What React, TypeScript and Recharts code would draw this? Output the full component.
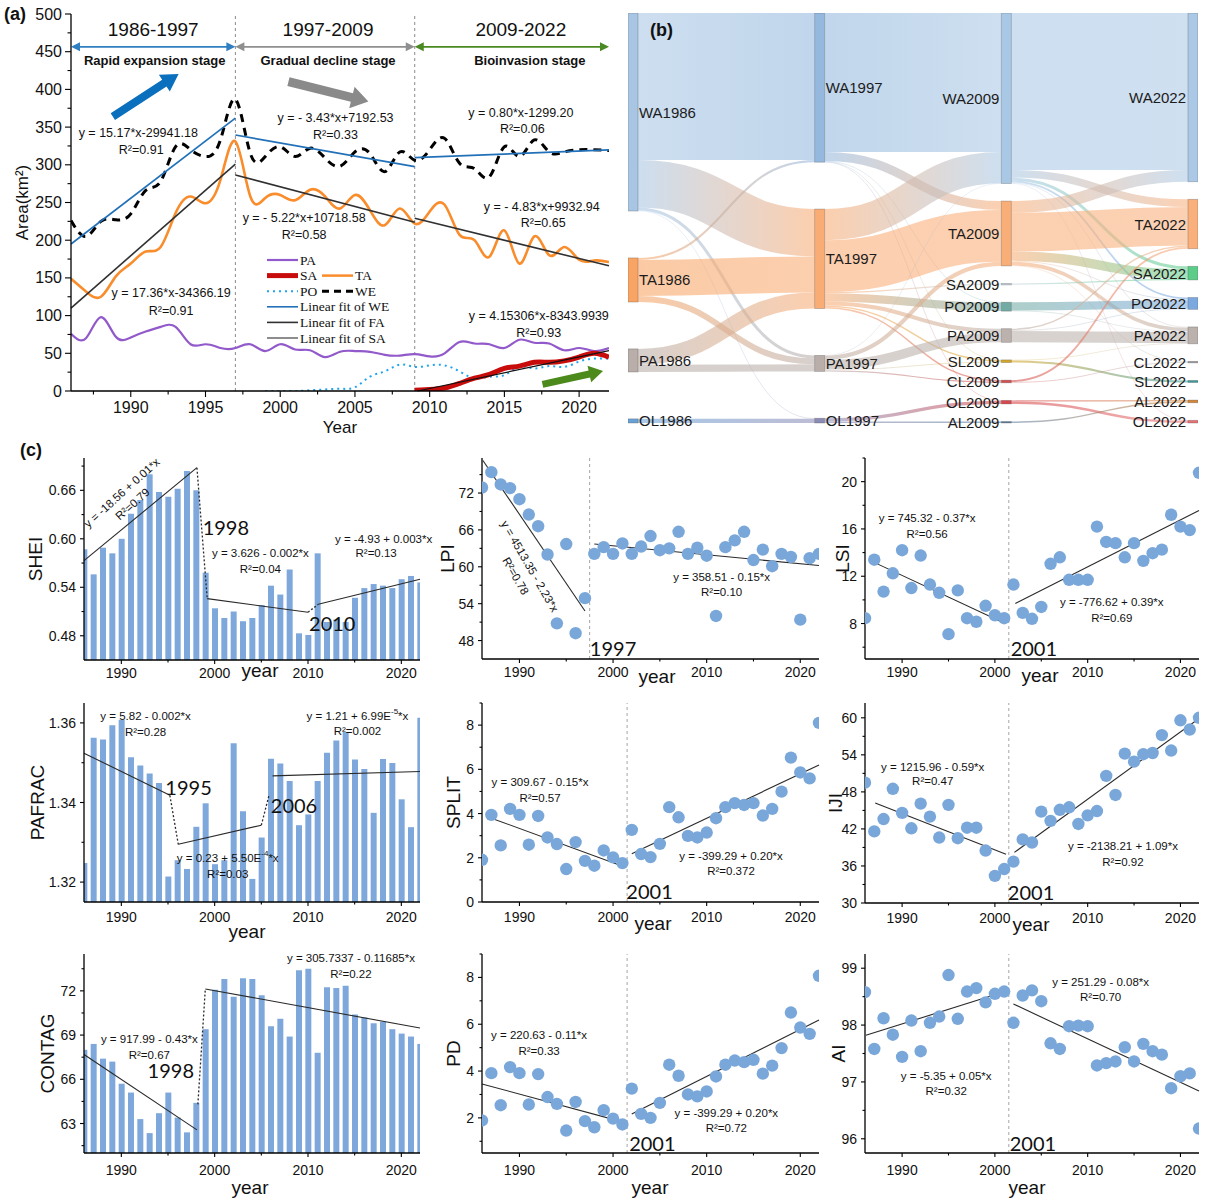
import React from 'react';
import {
  ComposedChart,
  Line,
  Bar,
  Scatter,
  XAxis,
  YAxis,
  ReferenceLine,
  ReferenceDot,
  Legend,
  Sankey,
} from 'recharts';

const SANS = '"Liberation Sans", Arial, Helvetica, sans-serif';
const SERIF = '"Liberation Serif", "Times New Roman", Times, serif';
const BIG = 'Lato, "Liberation Sans", sans-serif';

const YEARS = [
  1986, 1987, 1988, 1989, 1990, 1991, 1992, 1993, 1994, 1995, 1996, 1997, 1998,
  1999, 2000, 2001, 2002, 2003, 2004, 2005, 2006, 2007, 2008, 2009, 2010, 2011,
  2012, 2013, 2014, 2015, 2016, 2017, 2018, 2019, 2020, 2021, 2022,
];

// ---------------- (a) areas (km²) ----------------
const weArea = [226, 205, 225, 227, 235, 266, 278, 324, 320, 311, 333, 387, 315, 311, 324, 311, 322, 309, 298, 317, 315, 291, 317, 306, 320, 335, 302, 295, 284, 324, 311, 333, 317, 317, 320, 320, 319];
const taArea = [149, 132, 125, 152, 169, 185, 191, 236, 258, 249, 280, 331, 258, 256, 260, 253, 267, 258, 242, 260, 240, 220, 242, 222, 238, 247, 207, 200, 178, 213, 169, 205, 180, 191, 174, 173, 171];
const paArea = [76, 70, 98, 72, 71, 79, 85, 85, 62, 62, 57, 57, 62, 53, 62, 55, 54, 45, 52, 53, 52, 48, 47, 49, 46, 50, 65, 63, 62, 57, 68, 64, 63, 54, 57, 53, 57];
const poArea = [null, null, null, null, null, null, null, null, null, null, null, null, null, 0, 0, 0, 1, 2, 3, 5, 19, 26, 35, 32, 34, 34, 26, 17, 19, 21, 32, 30, 33, 32, 39, 43, 43];
const saArea = [null, null, null, null, null, null, null, null, null, null, null, null, null, null, null, null, null, null, null, null, null, null, null, 1, 2, 4, 10, 17, 22, 30, 33, 38, 38, 40, 45, 50, 45];

type Seg = [number, number, number, number];

// fitted trend segments [x1, y1, x2, y2]
const weFits: Seg[] = [[1986, 195, 1997, 362], [1997, 339.5, 2009, 297.5], [2009, 309.5, 2022, 319.7]];
const taFits: Seg[] = [[1986, 110, 1997, 301], [1997, 286.5, 2009, 223.7], [2009, 229, 2022, 166]];
const saFit: Seg = [2009.2, 0, 2022, 53.5];

const PA_COLOR = '#9159c9';
const TA_COLOR = '#f98c2b';
const SA_COLOR = '#c80c0c';
const PO_COLOR = '#1fa5f0';
const WE_FIT = '#2271b8';
const FIT_DARK = '#303030';

const areaRows = YEARS.map((year, i) => ({
  year,
  we: weArea[i],
  ta: taArea[i],
  pa: paArea[i],
  po: poArea[i],
  sa: saArea[i],
}));

const A_X_TICKS = [1987.5, 1990, 1992.5, 1995, 1997.5, 2000, 2002.5, 2005, 2007.5, 2010, 2012.5, 2015, 2017.5, 2020];
const A_X_MAJOR = [1990, 1995, 2000, 2005, 2010, 2015, 2020];
const A_Y_TICKS = [0, 25, 50, 75, 100, 125, 150, 175, 200, 225, 250, 275, 300, 325, 350, 375, 400, 425, 450, 475, 500];
const A_Y_MAJOR = [0, 50, 100, 150, 200, 250, 300, 350, 400, 450, 500];

interface Note {
  x: number;
  y: number;
  t: React.ReactNode;
  rot?: number;
  big?: boolean;
  bold?: boolean;
  fs?: number;
}

const sup = (pre: string, exp: string, post: string) => (
  <>
    {pre}
    <tspan dy={-5} fontSize={8}>{exp}</tspan>
    <tspan dy={5}>{post}</tspan>
  </>
);

const stageHeads: Note[] = [
  { x: 1991.5, y: 480, t: '1986-1997', fs: 19 },
  { x: 2003.2, y: 480, t: '1997-2009', fs: 19 },
  { x: 2016.1, y: 480, t: '2009-2022', fs: 19 },
  { x: 1991.6, y: 438, t: 'Rapid expansion stage', fs: 13, bold: true },
  { x: 2003.2, y: 438, t: 'Gradual decline stage', fs: 13, bold: true },
  { x: 2016.7, y: 438, t: 'Bioinvasion stage', fs: 13, bold: true },
];

const areaNotes: Note[] = [
  { x: 1990.5, y: 341.7, t: 'y = 15.17*x-29941.18' },
  { x: 1990.7, y: 319.6, t: 'R²=0.91' },
  { x: 2003.7, y: 361.6, t: 'y = - 3.43*x+7192.53' },
  { x: 2003.7, y: 339.5, t: 'R²=0.33' },
  { x: 2016.1, y: 369, t: 'y = 0.80*x-1299.20' },
  { x: 2016.2, y: 347, t: 'R²=0.06' },
  { x: 2001.6, y: 229, t: 'y = - 5.22*x+10718.58' },
  { x: 2001.6, y: 206.9, t: 'R²=0.58' },
  { x: 2017.5, y: 244.5, t: 'y = - 4.83*x+9932.94' },
  { x: 2017.6, y: 222.4, t: 'R²=0.65' },
  { x: 1992.7, y: 129.5, t: 'y = 17.36*x-34366.19' },
  { x: 1992.7, y: 106.5, t: 'R²=0.91' },
  { x: 2017.3, y: 99.5, t: 'y = 4.15306*x-8343.9939' },
  { x: 2017.3, y: 76.5, t: 'R²=0.93' },
];

// stage spans drawn as double-headed arrows
const stageSpans: { from: number; to: number; color: string }[] = [
  { from: 1986, to: 1997, color: '#2f7fc1' },
  { from: 1997, to: 2009, color: '#8f8f8f' },
  { from: 2009, to: 2022, color: '#4a8a22' },
];
const STAGE_Y = 456.5;

// trend arrows: tail -> tip
const trendArrows: { seg: Seg; color: string; shaft: number; head: number; len: number }[] = [
  { seg: [1988.8, 364, 1993.2, 420.5], color: '#0a6fbd', shaft: 8, head: 20, len: 17 },
  { seg: [2000.55, 410.3, 2005.9, 383.8], color: '#8a8a8a', shaft: 9, head: 22, len: 17 },
  { seg: [2017.55, 8.8, 2021.6, 26.5], color: '#4c8a1c', shaft: 7, head: 17, len: 14 },
];

const LEGEND_A = [
  { row: 0, col: 0, label: 'PA', color: PA_COLOR, w: 2.2 },
  { row: 1, col: 0, label: 'SA', color: SA_COLOR, w: 5 },
  { row: 1, col: 1, label: 'TA', color: TA_COLOR, w: 2.5 },
  { row: 2, col: 0, label: 'PO', color: PO_COLOR, w: 2, dash: '2 4' },
  { row: 2, col: 1, label: 'WE', color: '#000', w: 3, dash: '7 5' },
  { row: 3, col: 0, label: 'Linear fit of WE', color: WE_FIT, w: 1.6 },
  { row: 4, col: 0, label: 'Linear fit of FA', color: FIT_DARK, w: 1.6 },
  { row: 5, col: 0, label: 'Linear fit of SA', color: FIT_DARK, w: 1.1 },
];

// ---------------- (b) land-type transitions ----------------
const SANKEY_COLUMNS: string[][] = [
  ['WA1986', 'TA1986', 'PA1986', 'OL1986'],
  ['WA1997', 'TA1997', 'PA1997', 'OL1997'],
  ['WA2009', 'TA2009', 'SA2009', 'PO2009', 'PA2009', 'SL2009', 'CL2009', 'OL2009', 'AL2009'],
  ['WA2022', 'TA2022', 'SA2022', 'PO2022', 'PA2022', 'CL2022', 'SL2022', 'AL2022', 'OL2022'],
];

const SANKEY_FLOWS: [string, string, number][] = [
  ['WA1986', 'WA1997', 497], ['WA1986', 'TA1997', 160], ['WA1986', 'PA1997', 10], ['WA1986', 'OL1997', 2],
  ['TA1986', 'WA1997', 7], ['TA1986', 'TA1997', 122], ['TA1986', 'PA1997', 20],
  ['PA1986', 'TA1997', 54], ['PA1986', 'PA1997', 24],
  ['OL1986', 'OL1997', 14],
  ['WA1997', 'WA2009', 470], ['WA1997', 'TA2009', 30], ['WA1997', 'PO2009', 2], ['WA1997', 'OL2009', 1], ['WA1997', 'SL2009', 1],
  ['TA1997', 'WA2009', 105], ['TA1997', 'TA2009', 175], ['TA1997', 'PO2009', 28], ['TA1997', 'PA2009', 14],
  ['TA1997', 'SA2009', 4], ['TA1997', 'SL2009', 5], ['TA1997', 'CL2009', 5],
  ['PA1997', 'TA2009', 14], ['PA1997', 'PA2009', 32], ['PA1997', 'SL2009', 3], ['PA1997', 'CL2009', 4], ['PA1997', 'WA2009', 1],
  ['OL1997', 'OL2009', 11], ['OL1997', 'AL2009', 5],
  ['WA2009', 'WA2022', 530], ['WA2009', 'TA2022', 26], ['WA2009', 'SA2022', 10], ['WA2009', 'PO2022', 6], ['WA2009', 'PA2022', 3], ['WA2009', 'OL2022', 1],
  ['TA2009', 'WA2022', 40], ['TA2009', 'TA2022', 130], ['TA2009', 'SA2022', 32], ['TA2009', 'PA2022', 12], ['TA2009', 'PO2022', 3], ['TA2009', 'CL2022', 2],
  ['SA2009', 'SA2022', 4],
  ['PO2009', 'PO2022', 28], ['PO2009', 'PA2022', 2],
  ['PA2009', 'PA2022', 38], ['PA2009', 'TA2022', 5], ['PA2009', 'PO2022', 3],
  ['SL2009', 'SL2022', 7], ['SL2009', 'PA2022', 2],
  ['CL2009', 'TA2022', 6], ['CL2009', 'CL2022', 3],
  ['OL2009', 'OL2022', 8], ['OL2009', 'AL2022', 4],
  ['AL2009', 'AL2022', 5],
];

const NODE_FILL: Record<string, string> = {
  WA1986: '#a8c6e4', WA1997: '#94b8de', WA2009: '#a9c8e5', WA2022: '#abc9e6',
  TA1986: '#f8a464', TA1997: '#f9ac74', TA2009: '#f9ae78', TA2022: '#f9b07c',
  PA1986: '#b9aea9', PA1997: '#b9aea9', PA2009: '#bcb2ad', PA2022: '#bcb2ad',
  OL1986: '#6aa2d8', OL1997: '#8c8cb6', OL2009: '#d6484b', OL2022: '#e77375',
  SA2009: '#c5d3e0', SA2022: '#5ccd88',
  PO2009: '#72aba3', PO2022: '#7ba9df',
  SL2009: '#d4a62c', SL2022: '#3d9b98',
  CL2009: '#d25050', CL2022: '#9a9a9a',
  AL2009: '#5e7e9d', AL2022: '#d4863a',
};

const SANKEY_LEFT = 628;
const SANKEY_TOP = 13;
const SANKEY_W = 570;
const SANKEY_VISIBLE_H = 410;
const NODE_SHARE = 0.657; // share of each column's height taken by nodes; the rest is spread evenly as gaps

function buildSankey() {
  const inflow: Record<string, number> = {};
  const outflow: Record<string, number> = {};
  SANKEY_FLOWS.forEach(([s, t, v]) => {
    outflow[s] = (outflow[s] || 0) + v;
    inflow[t] = (inflow[t] || 0) + v;
  });
  const colSums = SANKEY_COLUMNS.map((col) =>
    col.reduce((a, n) => a + Math.max(inflow[n] || 0, outflow[n] || 0), 0),
  );
  const span = Math.max(...colSums) / NODE_SHARE;
  const gaps = SANKEY_COLUMNS.map((col, c) => (span - colSums[c]) / (col.length - 1));
  // every gap is a transparent spacer chained through all columns; it sits
  // between two nodes in its own column and below the drawn area elsewhere
  const spacer = (c: number, k: number, d: number) => `_gap${c}_${k}_${d}`;
  const order: string[] = [];
  SANKEY_COLUMNS.forEach((col, d) => {
    col.forEach((n, k) => {
      if (k > 0) order.push(spacer(d, k, d));
      order.push(n);
    });
    SANKEY_COLUMNS.forEach((other, c) => {
      if (c !== d) for (let k = 1; k < other.length; k++) order.push(spacer(c, k, d));
    });
  });
  const index = new Map(order.map((n, i) => [n, i]));
  const links = SANKEY_FLOWS.map(([s, t, v]) => ({ source: index.get(s) as number, target: index.get(t) as number, value: v }));
  SANKEY_COLUMNS.forEach((col, c) => {
    for (let k = 1; k < col.length; k++) {
      for (let d = 0; d < SANKEY_COLUMNS.length - 1; d++) {
        links.push({ source: index.get(spacer(c, k, d)) as number, target: index.get(spacer(c, k, d + 1)) as number, value: gaps[c] });
      }
    }
  });
  const gapTotal = SANKEY_COLUMNS.reduce((a, col, c) => a + gaps[c] * (col.length - 1), 0);
  const maxColumn = Math.max(...colSums.map((s) => s + gapTotal));
  return {
    data: { nodes: order.map((name) => ({ name })), links },
    height: (SANKEY_VISIBLE_H * maxColumn) / span,
  };
}

const SANKEY = buildSankey();

const renderSankeyNode = (p: any) => {
  const { x, y, width, height, payload } = p;
  const name: string = payload.name;
  if (name.startsWith('_')) return <g />;
  const onLeft = payload.depth >= 2;
  return (
    <g>
      <rect x={x} y={y} width={width} height={Math.max(height, 1.4)} fill={NODE_FILL[name]} stroke="rgba(70,70,70,0.35)" strokeWidth={0.8} />
      <text
        x={onLeft ? x - 2 : x + width + 1}
        y={y + height / 2}
        textAnchor={onLeft ? 'end' : 'start'}
        dominantBaseline="central"
        fontSize={15}
        fontFamily={SANS}
        fill="#1c1c1c"
      >
        {name}
      </text>
    </g>
  );
};

const renderSankeyLink = (p: any) => {
  const { sourceX, targetX, sourceY, targetY, sourceControlX, targetControlX, linkWidth, index, payload } = p;
  const s: string = payload.source.name;
  const t: string = payload.target.name;
  if (s.startsWith('_')) return <g />;
  const id = `skgrad${index}`;
  return (
    <g>
      <defs>
        <linearGradient id={id} gradientUnits="userSpaceOnUse" x1={sourceX} y1={0} x2={targetX} y2={0}>
          <stop offset="0%" stopColor={NODE_FILL[s]} />
          <stop offset="100%" stopColor={NODE_FILL[t]} />
        </linearGradient>
      </defs>
      <path
        d={`M${sourceX},${sourceY}C${sourceControlX},${sourceY} ${targetControlX},${targetY} ${targetX},${targetY}`}
        fill="none"
        stroke={`url(#${id})`}
        strokeWidth={Math.max(linkWidth, 0.7)}
        strokeOpacity={linkWidth < 1 ? 0.35 : 0.58}
      />
    </g>
  );
};

// ---------------- (c) landscape metrics ----------------
const sheiValues = [0.587, 0.556, 0.589, 0.582, 0.600, 0.631, 0.648, 0.680, 0.658, 0.652, 0.662, 0.684, 0.660, 0.558, 0.514, 0.502, 0.510, 0.498, 0.502, 0.518, 0.542, 0.531, 0.562, 0.483, 0.481, 0.582, 0.497, 0.500, 0.497, 0.527, 0.539, 0.544, 0.542, 0.539, 0.550, 0.554, 0.546];
const lpiValues = [72.9, 75.4, 73.4, 72.8, 71.0, 68.5, 66.6, 62.0, 50.8, 63.7, 49.2, 54.9, 62.1, 63.2, 62.1, 63.8, 62.1, 63.3, 65.0, 62.7, 63.0, 65.7, 62.1, 63.1, 61.8, 52.0, 63.2, 64.3, 65.7, 61.1, 62.8, 60.1, 62.1, 61.6, 51.4, 61.4, 62.1];
const lsiValues = [8.45, 13.4, 10.7, 12.25, 14.2, 11.0, 13.75, 11.3, 10.6, 7.1, 10.8, 8.45, 8.15, 9.5, 8.7, 8.45, 11.3, 8.9, 8.4, 9.4, 13.05, 13.6, 11.7, 11.7, 11.7, 16.2, 14.9, 14.8, 13.6, 14.8, 13.3, 13.95, 14.25, 17.2, 16.2, 15.9, 20.75];
const pafracValues = [1.3248, 1.3563, 1.3558, 1.3594, 1.3608, 1.3514, 1.3493, 1.3473, 1.3449, 1.3214, 1.3255, 1.3233, 1.3339, 1.3398, 1.3245, 1.3255, 1.3549, 1.3378, 1.3208, 1.3312, 1.3510, 1.3498, 1.3454, 1.3343, 1.3370, 1.3454, 1.3525, 1.3556, 1.3577, 1.3508, 1.3484, 1.3374, 1.3509, 1.3499, 1.3408, 1.3338, 1.3613];
const splitValues = [1.91, 3.94, 2.56, 4.21, 3.94, 2.59, 3.89, 2.92, 2.62, 1.49, 2.71, 1.86, 1.64, 2.33, 2.02, 1.76, 3.26, 2.17, 2.03, 2.63, 4.29, 3.83, 2.99, 2.92, 3.14, 3.79, 4.29, 4.47, 4.39, 4.47, 3.91, 4.21, 4.99, 6.53, 5.86, 5.59, 8.1];
const ijiValues = [49.5, 41.6, 43.6, 48.5, 44.6, 42.1, 46.1, 44.0, 40.6, 45.9, 40.5, 42.2, 42.2, 38.5, 34.4, 35.5, 36.7, 40.3, 39.8, 44.8, 43.3, 45.1, 45.5, 42.8, 44.2, 44.9, 50.6, 47.5, 54.2, 52.9, 54.1, 54.3, 57.2, 54.7, 59.6, 58.1, 60.0];
const contagValues = [68.0, 68.4, 67.4, 67.2, 65.7, 65.1, 63.3, 62.35, 63.7, 65.1, 63.4, 62.4, 64.4, 69.4, 72.07, 72.8, 71.6, 72.85, 72.8, 71.7, 69.6, 70.1, 68.9, 73.4, 73.5, 67.8, 72.25, 72.2, 72.35, 70.4, 70.2, 69.8, 69.9, 69.4, 69.1, 68.9, 68.4];
const pdValues = [1.89, 3.91, 2.54, 4.17, 3.91, 2.57, 3.87, 2.89, 2.60, 1.46, 2.68, 1.86, 1.60, 2.33, 1.97, 1.72, 3.25, 2.17, 2.00, 2.64, 4.27, 3.80, 3.00, 2.92, 3.13, 3.77, 4.27, 4.45, 4.38, 4.48, 3.89, 4.23, 4.98, 6.50, 5.86, 5.59, 8.07];
const aiValues = [98.58, 97.58, 98.12, 97.83, 97.44, 98.08, 97.54, 98.04, 98.15, 98.88, 98.11, 98.59, 98.65, 98.40, 98.55, 98.59, 98.04, 98.52, 98.61, 98.42, 97.68, 97.58, 97.98, 97.99, 97.98, 97.29, 97.33, 97.36, 97.61, 97.36, 97.67, 97.54, 97.48, 96.89, 97.10, 97.15, 96.18];

const C_X_TICKS = [1990, 1995, 2000, 2005, 2010, 2015, 2020];
const C_X_MAJOR = [1990, 2000, 2010, 2020];

interface Metric {
  label: string;
  kind: 'bar' | 'scatter';
  values: number[];
  box: [number, number, number, number];
  domain: [number, number];
  major: number[];
  minor: number[];
  digits: number;
  labelDX: number;
  yearDX: number;
  yearDY: number;
  xGap: number;
  split?: number;
  fits: Seg[];
  dotted: Seg[];
  notes: Note[];
}

const METRICS: Metric[] = [
  {
    label: 'SHEI', kind: 'bar', values: sheiValues, box: [84, 458, 336, 202],
    domain: [0.45, 0.7], major: [0.48, 0.54, 0.6, 0.66], minor: [0.51, 0.57, 0.63, 0.69], digits: 2,
    labelDX: -49, yearDX: 176, yearDY: 10, xGap: 4,
    fits: [[1986, 0.573, 1998.1, 0.688], [1999.2, 0.526, 2010, 0.509], [2011.1, 0.519, 2022, 0.55]],
    dotted: [[1998.1, 0.688, 1999.2, 0.526], [2010, 0.509, 2011.1, 0.519]],
    notes: [
      { x: 1990.05, y: 0.657, t: 'y = -18.56 + 0.01*x', rot: -42 },
      { x: 1991.2, y: 0.643, t: 'R²=0.79', rot: -42 },
      { x: 2001.2, y: 0.614, t: '1998', big: true },
      { x: 2004.9, y: 0.582, t: 'y = 3.626 - 0.002*x' },
      { x: 2004.9, y: 0.563, t: 'R²=0.04' },
      { x: 2012.6, y: 0.496, t: '2010', big: true },
      { x: 2018.1, y: 0.6, t: 'y = -4.93 + 0.003*x' },
      { x: 2017.3, y: 0.582, t: 'R²=0.13' },
    ],
  },
  {
    label: 'LPI', kind: 'scatter', values: lpiValues, box: [482, 458, 337, 201],
    domain: [45, 77.7], major: [48, 54, 60, 66, 72], minor: [51, 57, 63, 69, 75], digits: 0,
    labelDX: -35, yearDX: 175, yearDY: 17, xGap: 4, split: 1997.5,
    fits: [[1986.1, 77.3, 1997, 52.8], [1998, 63.7, 2022, 60.2]],
    dotted: [],
    notes: [
      { x: 1991.1, y: 60.1, t: 'y = 4513.35 - 2.23*x', rot: 60 },
      { x: 1989.6, y: 58.5, t: 'R²=0.78', rot: 60 },
      { x: 2000.0, y: 46.8, t: '1997', big: true },
      { x: 2011.6, y: 58.35, t: 'y = 358.51 - 0.15*x' },
      { x: 2011.6, y: 55.85, t: 'R²=0.10' },
    ],
  },
  {
    label: 'LSI', kind: 'scatter', values: lsiValues, box: [865, 458, 334, 201],
    domain: [5, 22], major: [8, 12, 16, 20], minor: [6, 10, 14, 18, 22], digits: 0,
    labelDX: -23, yearDX: 175, yearDY: 16, xGap: 4, split: 2001.5,
    fits: [[1987.1, 13.13, 2001.1, 8.0], [2002.2, 9.7, 2022, 17.55]],
    dotted: [],
    notes: [
      { x: 1992.7, y: 16.9, t: 'y = 745.32 - 0.37*x' },
      { x: 1992.7, y: 15.6, t: 'R²=0.56' },
      { x: 2004.2, y: 5.9, t: '2001', big: true },
      { x: 2012.6, y: 9.8, t: 'y = -776.62 + 0.39*x' },
      { x: 2012.6, y: 8.45, t: 'R²=0.69' },
    ],
  },
  {
    label: 'PAFRAC', kind: 'bar', values: pafracValues, box: [84, 703, 336, 199],
    domain: [1.315, 1.365], major: [1.32, 1.34, 1.36], minor: [1.33, 1.35], digits: 2,
    labelDX: -47, yearDX: 163, yearDY: 29, xGap: 6,
    fits: [[1986, 1.3524, 1995.2, 1.3418], [1996.1, 1.3295, 2005, 1.3343], [2006.2, 1.3467, 2022, 1.3478]],
    dotted: [[1995.2, 1.3418, 1996.1, 1.3295], [2005, 1.3343, 2005.8, 1.3416]],
    notes: [
      { x: 1992.6, y: 1.3617, t: 'y = 5.82 - 0.002*x' },
      { x: 1992.6, y: 1.3577, t: 'R²=0.28' },
      { x: 1997.2, y: 1.3438, t: '1995', big: true },
      { x: 2008.5, y: 1.3393, t: '2006', big: true },
      { x: 2001.4, y: 1.326, t: sup('y = 0.23 + 5.50E', '-4', '*x') },
      { x: 2001.4, y: 1.322, t: 'R²=0.03' },
      { x: 2015.3, y: 1.3618, t: sup('y = 1.21 + 6.99E', '-5', '*x') },
      { x: 2015.3, y: 1.3579, t: 'R²=0.002' },
    ],
  },
  {
    label: 'SPLIT', kind: 'scatter', values: splitValues, box: [482, 703, 337, 199],
    domain: [0, 9], major: [0, 2, 4, 6, 8], minor: [1, 3, 5, 7, 9], digits: 0,
    labelDX: -29, yearDX: 171, yearDY: 21, xGap: 6, split: 2001.5,
    fits: [[1987, 3.79, 2001.1, 1.61], [2002, 2.18, 2022, 6.2]],
    dotted: [],
    notes: [
      { x: 1992.2, y: 5.41, t: 'y = 309.67 - 0.15*x' },
      { x: 1992.2, y: 4.69, t: 'R²=0.57' },
      { x: 2003.9, y: 0.48, t: '2001', big: true },
      { x: 2012.6, y: 2.1, t: 'y = -399.29 + 0.20*x' },
      { x: 2012.6, y: 1.38, t: 'R²=0.372' },
    ],
  },
  {
    label: 'IJI', kind: 'scatter', values: ijiValues, box: [865, 703, 334, 200],
    domain: [30, 62.4], major: [30, 36, 42, 48, 54, 60], minor: [33, 39, 45, 51, 57], digits: 0,
    labelDX: -30, yearDX: 166, yearDY: 21, xGap: 6, split: 2001.5,
    fits: [[1987.1, 46.2, 2001.2, 37.9], [2002.1, 38.2, 2022, 59.9]],
    dotted: [],
    notes: [
      { x: 1993.3, y: 52.1, t: 'y = 1215.96 - 0.59*x' },
      { x: 1993.3, y: 49.7, t: 'R²=0.47' },
      { x: 2003.9, y: 31.8, t: '2001', big: true },
      { x: 2013.8, y: 39.3, t: 'y = -2138.21 + 1.09*x' },
      { x: 2013.8, y: 36.7, t: 'R²=0.92' },
    ],
  },
  {
    label: 'CONTAG', kind: 'bar', values: contagValues, box: [84, 954, 336, 199],
    domain: [61, 74.5], major: [63, 66, 69, 72], minor: [61.5, 64.5, 67.5, 70.5, 73.5], digits: 0,
    labelDX: -37, yearDX: 166, yearDY: 34, xGap: 8,
    fits: [[1986, 67.68, 1998.1, 62.57], [1999, 72.13, 2022, 69.48]],
    dotted: [[1998.2, 64.3, 1999, 72.13]],
    notes: [
      { x: 1993, y: 68.76, t: 'y = 917.99 - 0.43*x' },
      { x: 1993, y: 67.68, t: 'R²=0.67' },
      { x: 1995.3, y: 66.6, t: '1998', big: true },
      { x: 2014.6, y: 74.2, t: 'y = 305.7337 - 0.11685*x' },
      { x: 2014.6, y: 73.15, t: 'R²=0.22' },
    ],
  },
  {
    label: 'PD', kind: 'scatter', values: pdValues, box: [482, 954, 337, 199],
    domain: [0.5, 9], major: [2, 4, 6, 8], minor: [1, 3, 5, 7, 9], digits: 0,
    labelDX: -29, yearDX: 168, yearDY: 34, xGap: 8, split: 2001.5,
    fits: [[1986, 3.45, 2001.1, 1.82], [2002, 2.17, 2022, 6.18]],
    dotted: [],
    notes: [
      { x: 1992.1, y: 5.52, t: 'y = 220.63 - 0.11*x' },
      { x: 1992.1, y: 4.87, t: 'R²=0.33' },
      { x: 2004.2, y: 0.94, t: '2001', big: true },
      { x: 2012.1, y: 2.21, t: 'y = -399.29 + 0.20*x' },
      { x: 2012.1, y: 1.55, t: 'R²=0.72' },
    ],
  },
  {
    label: 'AI', kind: 'scatter', values: aiValues, box: [865, 954, 334, 199],
    domain: [95.75, 99.25], major: [96, 97, 98, 99], minor: [96.5, 97.5, 98.5], digits: 0,
    labelDX: -27, yearDX: 162, yearDY: 34, xGap: 8, split: 2001.5,
    fits: [[1986.1, 97.82, 2001.1, 98.59], [2002, 98.37, 2022, 96.84]],
    dotted: [],
    notes: [
      { x: 2011.4, y: 98.75, t: 'y = 251.29 - 0.08*x' },
      { x: 2011.4, y: 98.49, t: 'R²=0.70' },
      { x: 1994.75, y: 97.11, t: 'y = -5.35 + 0.05*x' },
      { x: 1994.75, y: 96.84, t: 'R²=0.32' },
      { x: 2004.1, y: 95.92, t: '2001', big: true },
    ],
  },
];

const BAR_COLOR = '#7ea8db';
const DOT_COLOR = '#7aa7d9';
const AXIS_LINE = { stroke: '#000', strokeWidth: 1.3 };

// ---------------- drawing helpers ----------------
const isIn = (list: number[], v: number) => list.some((m) => Math.abs(m - v) < 1e-6);

function makeXTick(major: number[], fs: number, majorLen: number, minorLen: number, gap: number) {
  return (p: any) => {
    const v = Number(p.payload.value);
    const isMajor = isIn(major, v);
    return (
      <g>
        <line x1={p.x} y1={p.y} x2={p.x} y2={p.y + (isMajor ? majorLen : minorLen)} stroke="#000" strokeWidth={1.1} />
        {isMajor ? (
          <text x={p.x} y={p.y + majorLen + gap} textAnchor="middle" dominantBaseline="hanging" fontSize={fs} fontFamily={SANS} fill="#111">
            {v}
          </text>
        ) : null}
      </g>
    );
  };
}

function makeYTick(major: number[], fs: number, digits: number, majorLen: number, minorLen: number, gap: number) {
  return (p: any) => {
    const v = Number(p.payload.value);
    const isMajor = isIn(major, v);
    return (
      <g>
        <line x1={p.x} y1={p.y} x2={p.x - (isMajor ? majorLen : minorLen)} y2={p.y} stroke="#000" strokeWidth={1.1} />
        {isMajor ? (
          <text x={p.x - majorLen - gap} y={p.y} textAnchor="end" dominantBaseline="central" fontSize={fs} fontFamily={SANS} fill="#111">
            {v.toFixed(digits)}
          </text>
        ) : null}
      </g>
    );
  };
}

const noteShape = (n: Note, fs: number) => (p: any) => (
  <text
    x={p.cx}
    y={p.cy}
    textAnchor="middle"
    dominantBaseline="central"
    fontSize={n.big ? 20 : n.fs || fs}
    fontWeight={n.bold ? 'bold' : 'normal'}
    fontFamily={n.big ? BIG : SANS}
    fill="#111"
    transform={n.rot ? `rotate(${n.rot} ${p.cx} ${p.cy})` : undefined}
  >
    {n.t}
  </text>
);

const renderNotes = (notes: Note[], fs: number, prefix: string) =>
  notes.map((n, i) => (
    <ReferenceDot key={`${prefix}${i}`} x={n.x} y={n.y} r={0} fill="none" stroke="none" ifOverflow="visible" shape={noteShape(n, fs)} />
  ));

const renderSegs = (segs: Seg[], stroke: string, width: number, prefix: string, dash?: string) =>
  segs.map((s, i) => (
    <ReferenceLine
      key={`${prefix}${i}`}
      segment={[{ x: s[0], y: s[1] }, { x: s[2], y: s[3] }]}
      stroke={stroke}
      strokeWidth={width}
      strokeDasharray={dash}
      ifOverflow="visible"
    />
  ));

const doubleArrow = (color: string) => (p: any) => {
  const { x1, y1, x2, y2 } = p;
  const h = 9;
  const w = 4.5;
  return (
    <g>
      <line x1={x1 + h - 1} y1={y1} x2={x2 - h + 1} y2={y2} stroke={color} strokeWidth={1.8} />
      <polygon points={`${x1},${y1} ${x1 + h},${y1 - w} ${x1 + h},${y1 + w}`} fill={color} />
      <polygon points={`${x2},${y2} ${x2 - h},${y2 - w} ${x2 - h},${y2 + w}`} fill={color} />
    </g>
  );
};

const blockArrow = (color: string, shaft: number, head: number, len: number) => (p: any) => {
  const { x1, y1, x2, y2 } = p;
  const dx = x2 - x1;
  const dy = y2 - y1;
  const d = Math.hypot(dx, dy) || 1;
  const ux = dx / d;
  const uy = dy / d;
  const nx = -uy;
  const ny = ux;
  const bx = x2 - ux * len;
  const by = y2 - uy * len;
  const pts = [
    [x1 + (nx * shaft) / 2, y1 + (ny * shaft) / 2],
    [bx + (nx * shaft) / 2, by + (ny * shaft) / 2],
    [bx + (nx * head) / 2, by + (ny * head) / 2],
    [x2, y2],
    [bx - (nx * head) / 2, by - (ny * head) / 2],
    [bx - (nx * shaft) / 2, by - (ny * shaft) / 2],
    [x1 - (nx * shaft) / 2, y1 - (ny * shaft) / 2],
  ];
  return <polygon points={pts.map((q) => q.join(',')).join(' ')} fill={color} />;
};

const dotShape = (p: any) => <circle cx={p.cx} cy={p.cy} r={6.2} fill={DOT_COLOR} />;

function LegendA() {
  return (
    <svg width={150} height={96} style={{ display: 'block' }}>
      {LEGEND_A.map((it, i) => {
        const x0 = it.col === 0 ? 4 : 59;
        const y = 8 + it.row * 15.6;
        return (
          <g key={i}>
            <line x1={x0} y1={y} x2={x0 + 31} y2={y} stroke={it.color} strokeWidth={it.w} strokeDasharray={it.dash} />
            <text x={x0 + 33} y={y} dominantBaseline="central" fontSize={13.5} fontFamily={SERIF} fill="#111">
              {it.label}
            </text>
          </g>
        );
      })}
    </svg>
  );
}

// ---------------- panels ----------------
function AreaPanel() {
  return (
    <div style={{ position: 'absolute', left: 0, top: 0 }}>
      <ComposedChart width={620} height={440} data={areaRows} margin={{ top: 14, right: 11, bottom: 0, left: 0 }}>
        <XAxis
          dataKey="year"
          type="number"
          domain={[1986, 2022]}
          allowDataOverflow
          ticks={A_X_TICKS}
          interval={0}
          tickSize={0}
          tickMargin={0}
          tickLine={false}
          tick={makeXTick(A_X_MAJOR, 16, 6, 3.5, 5)}
          height={49}
          axisLine={AXIS_LINE}
          label={(lp: any) => (
            <text x={lp.viewBox.x + lp.viewBox.width / 2} y={lp.viewBox.y + 36} textAnchor="middle" dominantBaseline="central" fontSize={17} fontFamily={SANS} fill="#111">
              Year
            </text>
          )}
        />
        <YAxis
          type="number"
          domain={[0, 500]}
          allowDataOverflow
          ticks={A_Y_TICKS}
          interval={0}
          tickSize={0}
          tickMargin={0}
          tickLine={false}
          tick={makeYTick(A_Y_MAJOR, 16, 0, 6, 3.5, 3)}
          width={71}
          axisLine={AXIS_LINE}
          label={(lp: any) => {
            const cx = lp.viewBox.x + 22;
            const cy = lp.viewBox.y + lp.viewBox.height / 2;
            return (
              <text x={cx} y={cy} transform={`rotate(-90 ${cx} ${cy})`} textAnchor="middle" dominantBaseline="central" fontSize={17} fontFamily={SANS} fill="#111">
                Area(km²)
              </text>
            );
          }}
        />
        <ReferenceLine x={1997} stroke="#8a8a8a" strokeDasharray="3 3" strokeWidth={1} />
        <ReferenceLine x={2009} stroke="#8a8a8a" strokeDasharray="3 3" strokeWidth={1} />

        <Line type="natural" dataKey="po" stroke={PO_COLOR} strokeWidth={2} strokeDasharray="2 4" dot={false} isAnimationActive={false} />
        <Line type="natural" dataKey="pa" stroke={PA_COLOR} strokeWidth={2.2} dot={false} isAnimationActive={false} />
        <Line type="natural" dataKey="sa" stroke={SA_COLOR} strokeWidth={5} dot={false} isAnimationActive={false} />
        <Line type="natural" dataKey="ta" stroke={TA_COLOR} strokeWidth={2.6} dot={false} isAnimationActive={false} />
        <Line type="natural" dataKey="we" stroke="#000" strokeWidth={3} strokeDasharray="8 6" dot={false} isAnimationActive={false} />

        {renderSegs(weFits, WE_FIT, 1.7, 'wef')}
        {renderSegs(taFits, FIT_DARK, 1.6, 'taf')}
        {renderSegs([saFit], '#111', 1.2, 'saf')}

        {stageSpans.map((s, i) => (
          <ReferenceLine
            key={`stage${i}`}
            segment={[{ x: s.from, y: STAGE_Y }, { x: s.to, y: STAGE_Y }]}
            stroke={s.color}
            ifOverflow="visible"
            shape={doubleArrow(s.color)}
          />
        ))}
        {trendArrows.map((a, i) => (
          <ReferenceLine
            key={`trend${i}`}
            segment={[{ x: a.seg[0], y: a.seg[1] }, { x: a.seg[2], y: a.seg[3] }]}
            stroke={a.color}
            ifOverflow="visible"
            shape={blockArrow(a.color, a.shaft, a.head, a.len)}
          />
        ))}

        {renderNotes(stageHeads, 13, 'stg')}
        {renderNotes(areaNotes, 12.5, 'eq')}

        <Legend
          layout="horizontal"
          verticalAlign="middle"
          align="center"
          content={() => <LegendA />}
          wrapperStyle={{ left: 263, top: 252, width: 150, height: 96 }}
        />
      </ComposedChart>
    </div>
  );
}

function TransitionPanel() {
  return (
    <div style={{ position: 'absolute', left: SANKEY_LEFT, top: SANKEY_TOP, width: SANKEY_W, height: 422, overflow: 'hidden' }}>
      <Sankey
        width={SANKEY_W}
        height={SANKEY.height}
        data={SANKEY.data}
        nodeWidth={10}
        nodePadding={0}
        iterations={0}
        margin={{ top: 0, right: 0, bottom: 0, left: 0 }}
        node={renderSankeyNode}
        link={renderSankeyLink}
      />
    </div>
  );
}

function MetricPanel({ m }: { m: Metric }) {
  const [left, top, w, h] = m.box;
  const ML = 72;
  const MT = 14;
  const MR = 14;
  const MB = 48;
  const rows = YEARS.map((year, i) => ({ year, v: m.values[i] }));
  const yTicks = [...m.major, ...m.minor].sort((a, b) => a - b);
  return (
    <div style={{ position: 'absolute', left: left - ML, top: top - MT }}>
      <ComposedChart width={w + ML + MR} height={h + MT + MB} data={rows} margin={{ top: MT, right: MR, bottom: 0, left: 0 }}>
        <XAxis
          dataKey="year"
          type="number"
          domain={[1986, 2022]}
          allowDataOverflow
          ticks={C_X_TICKS}
          interval={0}
          tickSize={0}
          tickMargin={0}
          tickLine={false}
          tick={makeXTick(C_X_MAJOR, 14, 4, 2.5, m.xGap)}
          height={MB}
          axisLine={AXIS_LINE}
          label={(lp: any) => (
            <text x={lp.viewBox.x + m.yearDX} y={lp.viewBox.y + m.yearDY} textAnchor="middle" dominantBaseline="central" fontSize={19} fontFamily={SANS} fill="#111">
              year
            </text>
          )}
        />
        <YAxis
          type="number"
          domain={m.domain}
          allowDataOverflow
          ticks={yTicks}
          interval={0}
          tickSize={0}
          tickMargin={0}
          tickLine={false}
          tick={makeYTick(m.major, 14, m.digits, 4, 2.5, 4)}
          width={ML}
          axisLine={AXIS_LINE}
          label={(lp: any) => {
            const cx = lp.viewBox.x + lp.viewBox.width + m.labelDX;
            const cy = lp.viewBox.y + lp.viewBox.height / 2;
            return (
              <text x={cx} y={cy} transform={`rotate(-90 ${cx} ${cy})`} textAnchor="middle" dominantBaseline="central" fontSize={19} fontFamily={SANS} fill="#111">
                {m.label}
              </text>
            );
          }}
        />
        {m.split !== undefined ? <ReferenceLine x={m.split} stroke="#a5a5a5" strokeDasharray="3 3" strokeWidth={1} /> : null}
        {m.kind === 'bar' ? (
          <Bar dataKey="v" fill={BAR_COLOR} barSize={6} isAnimationActive={false} />
        ) : (
          <Scatter dataKey="v" fill={DOT_COLOR} shape={dotShape} isAnimationActive={false} />
        )}
        {renderSegs(m.fits, '#2a2a2a', 1.1, 'fit')}
        {renderSegs(m.dotted, '#2a2a2a', 1.3, 'dot', '2 2')}
        {renderNotes(m.notes, 11.5, 'n')}
      </ComposedChart>
    </div>
  );
}

const tagStyle: React.CSSProperties = {
  position: 'absolute',
  fontFamily: SANS,
  fontWeight: 'bold',
  fontSize: 18,
  lineHeight: '18px',
  color: '#111',
};

export default function App() {
  return (
    <div style={{ position: 'absolute', left: 0, top: 0, width: 1207, height: 1198, overflow: 'hidden', background: '#fff', fontFamily: SANS }}>
      <AreaPanel />
      <TransitionPanel />
      {METRICS.map((m) => (
        <MetricPanel key={m.label} m={m} />
      ))}
      <div style={{ ...tagStyle, left: 4, top: 5 }}>(a)</div>
      <div style={{ ...tagStyle, left: 650, top: 21 }}>(b)</div>
      <div style={{ ...tagStyle, left: 20, top: 441 }}>(c)</div>
    </div>
  );
}
